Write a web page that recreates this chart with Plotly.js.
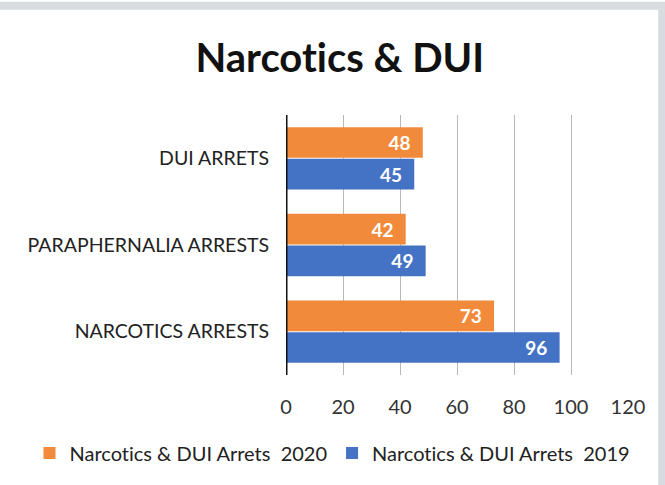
<!DOCTYPE html>
<html><head><meta charset="utf-8">
<script src="https://cdn.plot.ly/plotly-3.0.1.min.js"></script>
<style>html,body{margin:0;padding:0;background:#fff}#c{width:665px;height:485px}
text{font-variant-ligatures:none;font-feature-settings:"liga" 0;}</style>
</head><body><div id="c"></div>
<script>
const categories = ["NARCOTICS ARRESTS", "PARAPHERNALIA ARRESTS", "DUI ARRETS"];
const values2019 = [96, 49, 45];
const values2020 = [73, 42, 48];
const seriesNames = ["Narcotics & DUI Arrets  2019", "Narcotics & DUI Arrets  2020"];
const tickVals = [0, 20, 40, 60, 80, 100, 120];

const FF = "Lato, 'Open Sans', sans-serif";
const labelFont = {family: FF, size: 19, color: "#ffffff", weight: "bold"};
const traces = [
  {type: "bar", orientation: "h", name: seriesNames[0], y: categories, x: values2019,
   marker: {color: "#4472C4"}, texttemplate: "%{x}\u00a0\u00a0", textposition: "inside",
   insidetextanchor: "end", textfont: labelFont, cliponaxis: false},
  {type: "bar", orientation: "h", name: seriesNames[1], y: categories, x: values2020,
   marker: {color: "#F28A3C"}, texttemplate: "%{x}\u00a0\u00a0", textposition: "inside",
   insidetextanchor: "end", textfont: labelFont, cliponaxis: false}
];
const layout = {
  width: 665, height: 485,
  margin: {l: 286, r: 37, t: 115, b: 110},
  paper_bgcolor: "#ffffff", plot_bgcolor: "rgba(0,0,0,0)",
  font: {family: FF, color: "#222"},
  title: {text: "<b>Narcotics & DUI</b>", x: 0.511, xanchor: "center", xref: "container",
          y: 0.88, yanchor: "middle", yref: "container",
          font: {size: 40, color: "#111", family: FF}},
  barmode: "group", bargap: 0.27, bargroupgap: 0.03,
  xaxis: {range: [0, 120], tickvals: tickVals, showgrid: true, gridcolor: "#b8b8b8", gridwidth: 1,
          zeroline: false, showline: false, ticks: "", ticklabelstandoff: 18,
          tickfont: {size: 20, color: "#333"}},
  yaxis: {type: "category", categoryorder: "array", categoryarray: categories, showgrid: false,
          zeroline: false, showline: false, ticks: "", ticklabelstandoff: 16,
          tickfont: {size: 19.5, color: "#222"}},
  showlegend: true,
  legend: {orientation: "h", traceorder: "reversed", x: -0.75, xanchor: "left", xref: "paper",
           y: -0.30, yanchor: "middle", yref: "paper", font: {size: 20, color: "#222"},
           itemwidth: 30, tracegroupgap: 0},
  shapes: [
    {type: "line", xref: "x", yref: "paper", x0: 0, x1: 0, y0: 0, y1: 1, line: {color: "#111", width: 3}},
    {type: "rect", xref: "paper", yref: "paper", x0: -1.36, x1: 1.1, y0: -0.45, y1: 1.42,
     line: {color: "#d8dbe0", width: 8}, fillcolor: "rgba(0,0,0,0)", layer: "below"}
  ]
};
Plotly.newPlot("c", traces, layout, {displayModeBar: false, staticPlot: true});
</script></body></html>
